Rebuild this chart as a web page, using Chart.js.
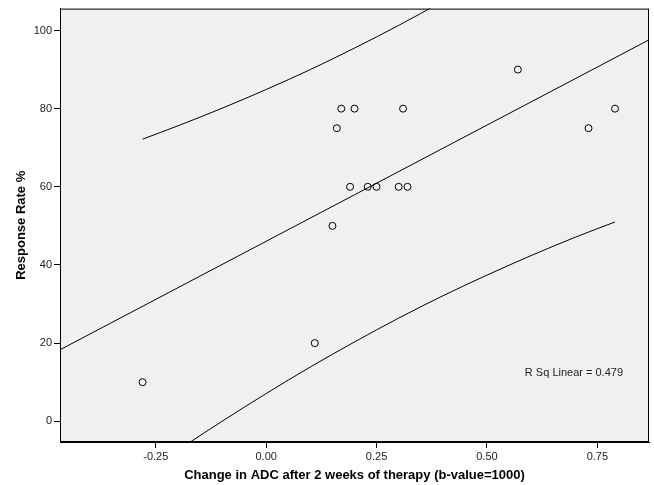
<!DOCTYPE html>
<html>
<head>
<meta charset="utf-8">
<title>Response rate vs change in ADC</title>
<script src="https://cdn.jsdelivr.net/npm/chart.js@4/dist/chart.umd.min.js"></script>
<style>
  body { margin: 0; background: #fff; }
  canvas { display: block; }
</style>
</head>
<body>
<canvas id="chart" width="654" height="485"></canvas>
<script>
// Observed patients
const adcChange = [-0.28, 0.11, 0.15, 0.16, 0.17, 0.19, 0.20, 0.23, 0.25, 0.30, 0.31, 0.32, 0.57, 0.73, 0.79];
const responseRate = [10, 20, 50, 75, 80, 60, 80, 60, 60, 60, 80, 60, 90, 75, 80];

// Linear fit line (ends at the plot edges)
const fitX = [-0.467, 0.867];
const fitY = [18.3, 97.6];

// Prediction interval curves
const bandX = [-0.28, -0.2, -0.1, 0, 0.1, 0.2, 0.3, 0.4, 0.5, 0.6, 0.7, 0.79];
const bandUpper = [72.2, 75.6, 80.1, 84.9, 90.0, 95.5, 101.3, 107.5, 114.1, 121.0, 128.2, 135.0];
const bandLower = [-13.5, -7.4, 0.0, 7.1, 13.9, 20.3, 26.4, 32.1, 37.4, 42.4, 47.1, 51.0];

// Axes
const xTicks = [-0.25, 0, 0.25, 0.5, 0.75];
const yTicks = [0, 20, 40, 60, 80, 100];
const xRange = [-0.467, 0.867];
const yRange = [-5.3, 105.6];

const rSqLabel = 'R Sq Linear = 0.479';
const rSqPos = [0.697, 12.4];

const FONT = "Arial, 'Liberation Sans', sans-serif";

function pairs(xs, ys) {
    return xs.map((x, i) => ({ x: x, y: ys[i] }));
}

// grey plot background, frame and the R-square note
const framePlugin = {
    id: 'frame',
    beforeDraw(chart) {
        const a = chart.chartArea;
        const ctx = chart.ctx;
        ctx.save();
        ctx.fillStyle = '#f0f0f0';
        ctx.fillRect(a.left, a.top, a.right - a.left, a.bottom - a.top);
        ctx.restore();
    },
    afterDraw(chart) {
        const a = chart.chartArea;
        const ctx = chart.ctx;
        ctx.save();
        ctx.strokeStyle = '#000';
        ctx.lineWidth = 1;
        ctx.strokeRect(a.left + 0.5, a.top + 0.5, a.right - a.left - 1, a.bottom - a.top - 1);
        const px = chart.scales.x.getPixelForValue(rSqPos[0]);
        const py = chart.scales.y.getPixelForValue(rSqPos[1]);
        ctx.fillStyle = '#222';
        ctx.font = '11px ' + FONT;
        ctx.textAlign = 'center';
        ctx.textBaseline = 'middle';
        ctx.fillText(rSqLabel, px, py);
        ctx.restore();
    }
};

const lineStyle = {
    showLine: true,
    borderColor: '#000',
    borderWidth: 1,
    pointRadius: 0,
    fill: false
};

new Chart(document.getElementById('chart'), {
    type: 'scatter',
    data: {
        datasets: [
            Object.assign({ data: pairs(fitX, fitY) }, lineStyle),
            Object.assign({ data: pairs(bandX, bandUpper), cubicInterpolationMode: 'monotone' }, lineStyle),
            Object.assign({ data: pairs(bandX, bandLower), cubicInterpolationMode: 'monotone' }, lineStyle),
            {
                data: pairs(adcChange, responseRate),
                pointRadius: 3.5,
                pointBorderWidth: 1,
                pointBackgroundColor: 'rgba(0,0,0,0)',
                pointBorderColor: '#000',
                showLine: false
            }
        ]
    },
    options: {
        responsive: false,
        animation: false,
        layout: { padding: { left: 0, right: 3, top: 8, bottom: 0 } },
        plugins: {
            legend: { display: false },
            tooltip: { enabled: false }
        },
        scales: {
            x: {
                type: 'linear',
                min: xRange[0],
                max: xRange[1],
                afterBuildTicks: axis => { axis.ticks = xTicks.map(v => ({ value: v })); },
                afterFit: axis => { axis.height = 43; },
                grid: { drawOnChartArea: false, drawTicks: true, tickLength: 6, color: '#000' },
                border: { display: true, color: '#000' },
                ticks: {
                    color: '#222',
                    padding: 2,
                    maxRotation: 0,
                    font: { family: FONT, size: 11 },
                    callback: v => v.toFixed(2)
                },
                title: {
                    display: true,
                    text: 'Change in ADC after 2 weeks of therapy (b-value=1000)',
                    color: '#000',
                    padding: { top: 0, bottom: 2 },
                    font: { family: FONT, size: 13, weight: 'bold' }
                }
            },
            y: {
                type: 'linear',
                min: yRange[0],
                max: yRange[1],
                afterBuildTicks: axis => { axis.ticks = yTicks.map(v => ({ value: v })); },
                afterFit: axis => { axis.width = 60; },
                grid: { drawOnChartArea: false, drawTicks: true, tickLength: 6, color: '#000' },
                border: { display: true, color: '#000' },
                ticks: {
                    color: '#222',
                    padding: 2,
                    font: { family: FONT, size: 11 }
                },
                title: {
                    display: true,
                    text: 'Response Rate %',
                    color: '#000',
                    padding: { top: 14, bottom: 0 },
                    font: { family: FONT, size: 13, weight: 'bold' }
                }
            }
        }
    },
    plugins: [framePlugin]
});
</script>
</body>
</html>
